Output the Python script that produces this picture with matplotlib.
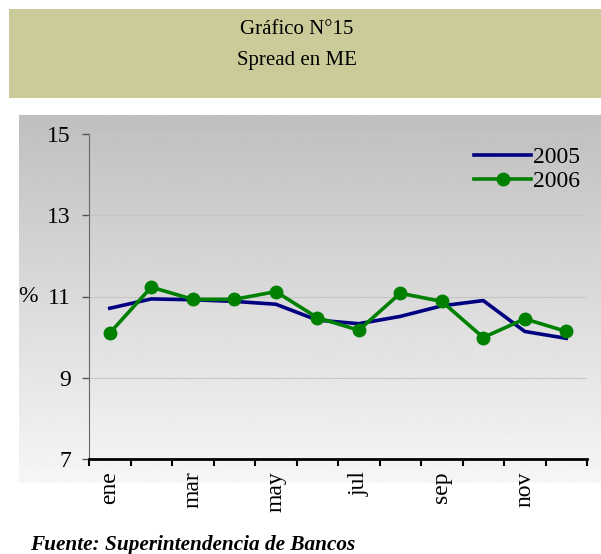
import numpy as np
import matplotlib
matplotlib.use("Agg")
from matplotlib import pyplot as plt
from matplotlib.patches import Rectangle

meses = ["ene", "feb", "mar", "abr", "may", "jun", "jul", "ago", "sep", "oct", "nov", "dic"]
spread_2005 = [10.71, 10.94, 10.92, 10.88, 10.81, 10.42, 10.33, 10.51, 10.77, 10.90, 10.14, 9.97]
spread_2006 = [10.10, 11.23, 10.93, 10.93, 11.12, 10.48, 10.17, 11.08, 10.88, 9.99, 10.45, 10.14]
y_ticks = [7, 9, 11, 13, 15]

plt.rcParams['font.family'] = ['Liberation Serif', 'DejaVu Serif']

W, H = 601, 554
fig = plt.figure(figsize=(W / 100, H / 100), dpi=100)

# title band + gradient panel drawn in pixel coords
band = fig.add_axes([0, 0, 1, 1], zorder=0)
band.axis("off")
band.add_patch(Rectangle((9, 9), W - 9, 89, facecolor="#cbcb99", edgecolor="none"))
grad = np.linspace(0.75, 0.965, 256).reshape(-1, 1)
band.imshow(grad, cmap="gray", vmin=0, vmax=1, extent=(19, W, 483, 115), aspect="auto", zorder=1)
band.set_xlim(0, W)
band.set_ylim(H, 0)

fig.text(297 / W, 1 - 30 / H, "Gráfico N°15", ha="center", va="center", fontsize=15)
fig.text(297 / W, 1 - 60 / H, "Spread en ME", ha="center", va="center", fontsize=15)
fig.text(30 / W, 1 - 545 / H, "Fuente: Superintendencia de Bancos", ha="left", va="center",
         fontsize=15.3, fontweight="bold", fontstyle="italic")

ax = fig.add_axes([89 / W, 1 - 459 / H, (587 - 89) / W, (459 - 134) / H], zorder=2)
ax.patch.set_alpha(0)
x = np.arange(len(meses))
ax.plot(x, spread_2005, color="#000080", lw=2.6, label="2005", zorder=3)
ax.plot(x, spread_2006, color="#008000", lw=2.6, marker="o", ms=9, label="2006", zorder=4)

ax.set_xlim(-0.5, 11.5)
ax.set_ylim(7, 15)
ax.set_yticks(y_ticks)
ax.set_yticklabels([str(v) for v in y_ticks], fontsize=17)
ax.set_xticks(np.arange(-0.5, 12, 1))
ax.set_xticklabels([])
ax.set_xticks(x[::2], minor=True)
ax.set_xticklabels(meses[::2], minor=True, rotation=90, fontsize=17)
ax.tick_params(axis="x", which="minor", length=0, pad=9)
ax.tick_params(axis="x", which="major", direction="out", length=5, width=1.5)
ax.tick_params(axis="y", direction="out", length=5, width=1, colors="#555555",
               labelcolor="black", pad=8)
for v in y_ticks[1:]:
    ax.axhline(v, color="#c6c6c6", lw=0.8, zorder=1)
ax.spines["top"].set_visible(False)
ax.spines["right"].set_visible(False)
ax.spines["left"].set_color("#666666")
ax.spines["bottom"].set_linewidth(2)
ax.set_ylabel("%", rotation=0, fontsize=17, labelpad=14, va="center")

ax.legend(loc="upper right", bbox_to_anchor=(1.015, 1.005), frameon=False, fontsize=17,
          handlelength=2.4, handletextpad=0.1, borderaxespad=0.2, labelspacing=0.1)

fig.savefig("out.png", dpi=100)
